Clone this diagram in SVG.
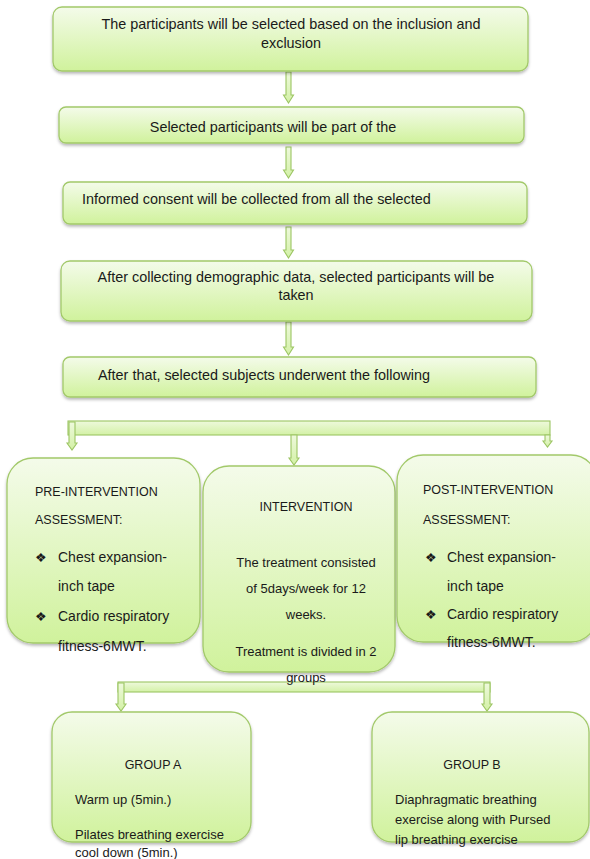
<svg xmlns="http://www.w3.org/2000/svg" width="590" height="859" viewBox="0 0 590 859">
<defs>
<linearGradient id="g" x1="0" y1="0" x2="0" y2="1">
<stop offset="0" stop-color="#f4fbea"/>
<stop offset="1" stop-color="#d0f29c"/>
</linearGradient>
<linearGradient id="ga" x1="0" y1="0" x2="0" y2="1">
<stop offset="0" stop-color="#eef9dc"/>
<stop offset="1" stop-color="#d3f1a6"/>
</linearGradient>
<filter id="sh" x="-10%" y="-10%" width="120%" height="130%">
<feDropShadow dx="0" dy="2" stdDeviation="1.5" flood-color="#000" flood-opacity="0.28"/>
</filter>
</defs>
<style>
.box{fill:url(#g);stroke:#a2c96a;stroke-width:1.3;filter:url(#sh)}
.arr{fill:url(#ga);stroke:#9cc563;stroke-width:1.1}
text{font-family:"Liberation Sans",Arial,sans-serif;font-size:14.4px;fill:#1a1a1a}
.h{font-size:12.5px}
.m{font-size:13px}
.s{font-size:14px}
.c{text-anchor:middle}
</style>
<rect width="590" height="859" fill="#fff"/>

<g id="connectors">
<path class="arr" d="M286,72 H291 V95 H293.5 L288.5,103 L283.5,95 H286 Z"/>
<path class="arr" d="M286,147 H291 V170 H293.5 L288.5,178 L283.5,170 H286 Z"/>
<path class="arr" d="M286,227 H291 V250 H293.5 L288.5,258 L283.5,250 H286 Z"/>
<path class="arr" d="M286,322 H291 V347 H293.5 L288.5,355 L283.5,347 H286 Z"/>
<rect class="arr" x="68" y="421" width="482" height="14"/>
<path class="arr" d="M69,422 H75 V443 H77 L72,450 L67,443 H69 Z"/>
<path class="arr" d="M291,435 H297 V458 H299 L294,465 L289,458 H291 Z"/>
<path class="arr" d="M545,435 H550 V441 H552 L547.5,447 L543,441 H545 Z"/>
<rect class="arr" x="118" y="682" width="372" height="10"/>
<path class="arr" d="M118,683 H124 V704 H126 L121,711 L116,704 H118 Z"/>
<path class="arr" d="M484,683 H490 V704 H492 L487,711 L482,704 H484 Z"/>
</g>

<g id="n1">
<rect class="box" x="53" y="7" width="475" height="64" rx="9"/>
<text class="c" x="291" y="29">The participants will be selected based on the inclusion and</text>
<text class="c" x="291" y="48">exclusion</text>
</g>

<g id="n2">
<rect class="box" x="59" y="107" width="465" height="36" rx="7"/>
<text class="c" x="273" y="132">Selected participants will be part of the</text>
</g>

<g id="n3">
<rect class="box" x="63" y="182" width="464" height="42" rx="7"/>
<text x="82" y="204">Informed consent will be collected from all the selected</text>
</g>

<g id="n4">
<rect class="box" x="61" y="261" width="471" height="60" rx="9"/>
<text class="c" x="296" y="282">After collecting demographic data, selected participants will be</text>
<text class="c" x="296" y="300">taken</text>
</g>

<g id="n5">
<rect class="box" x="63" y="357" width="473" height="40" rx="7"/>
<text x="98" y="380">After that, selected subjects underwent  the following</text>
</g>

<g id="pre">
<rect class="box" x="7" y="458" width="193" height="185" rx="26"/>
<text class="h" x="35" y="496">PRE-INTERVENTION</text>
<text class="h" x="35" y="524">ASSESSMENT:</text>
<text class="h" x="35" y="562">❖</text>
<text class="s" x="58" y="562">Chest expansion-</text>
<text class="s" x="58" y="591">inch tape</text>
<text class="h" x="35" y="621">❖</text>
<text class="s" x="58" y="621">Cardio respiratory</text>
<text class="s" x="58" y="651">fitness-6MWT.</text>
</g>

<g id="int">
<rect class="box" x="203" y="466" width="192" height="206" rx="26"/>
<text class="c h" x="306" y="511">INTERVENTION</text>
<text class="c m" x="306" y="567">The treatment consisted</text>
<text class="c m" x="306" y="593">of 5days/week for 12</text>
<text class="c m" x="306" y="619">weeks.</text>
<text class="c m" x="306" y="656">Treatment is divided in 2</text>
<text class="c m" x="306" y="682">groups</text>
</g>

<g id="post">
<rect class="box" x="397" y="455" width="200" height="187" rx="26"/>
<text class="h" x="423" y="494">POST-INTERVENTION</text>
<text class="h" x="423" y="524">ASSESSMENT:</text>
<text class="h" x="425" y="562">❖</text>
<text class="s" x="447" y="562">Chest expansion-</text>
<text class="s" x="447" y="591">inch tape</text>
<text class="h" x="425" y="619">❖</text>
<text class="s" x="447" y="619">Cardio respiratory</text>
<text class="s" x="447" y="647">fitness-6MWT.</text>
</g>

<g id="ga_node">
<rect class="box" x="52" y="712" width="199" height="130" rx="20"/>
<text class="c h" x="153" y="769">GROUP A</text>
<text class="m" x="75" y="804">Warm up (5min.)</text>
<text class="m" x="75" y="839">Pilates breathing exercise</text>
<text class="m" x="75" y="857">cool down (5min.)</text>
</g>

<g id="gb_node">
<rect class="box" x="372" y="712" width="217" height="130" rx="20"/>
<text class="c h" x="472" y="769">GROUP B</text>
<text class="m" x="395" y="804">Diaphragmatic breathing</text>
<text class="m" x="395" y="824">exercise along with Pursed</text>
<text class="m" x="395" y="844">lip breathing exercise</text>
</g>
</svg>
